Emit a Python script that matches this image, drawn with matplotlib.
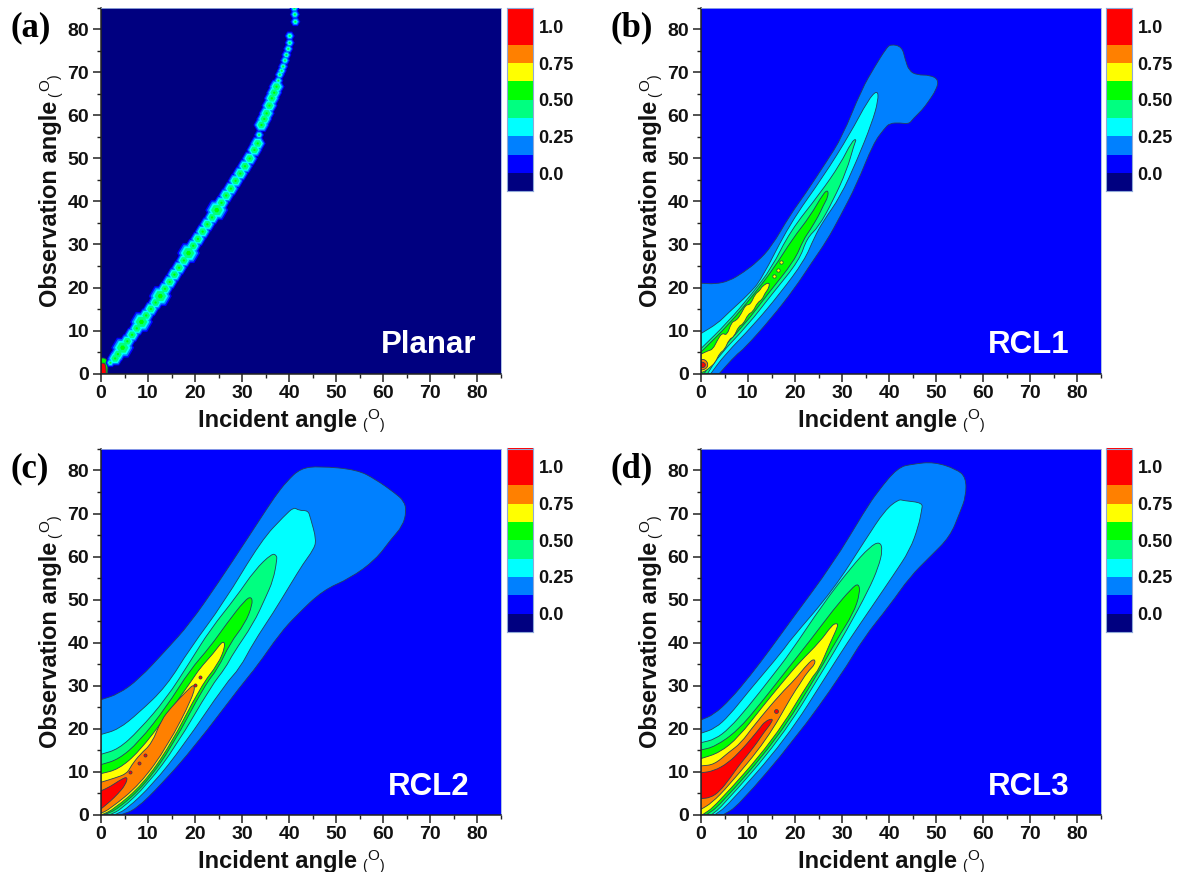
import matplotlib
matplotlib.use("Agg")
import matplotlib.pyplot as plt
from matplotlib.path import Path
from matplotlib.patches import PathPatch

plt.rcParams['font.family'] = ['Liberation Sans', 'DejaVu Sans']

# ---- colour scale ----
LEVEL_EDGES = [-0.125, 0, 0.125, 0.25, 0.375, 0.5, 0.625, 0.75, 0.875, 1.125]
LEVEL_TICKS = [0.0, 0.25, 0.50, 0.75, 1.0]
LEVEL_TICK_LABELS = ['0.0', '0.25', '0.50', '0.75', '1.0']
NAVY, BLUE, AZURE, CYAN, SPRING, GREEN, YELLOW, ORANGE, RED = (
    '#000080', '#0000FF', '#0080FF', '#00FFFF', '#00FF80', '#00FF00', '#FFFF00', '#FF8000', '#FF0000')
LEVEL_COLORS = [NAVY, BLUE, AZURE, CYAN, SPRING, GREEN, YELLOW, ORANGE, RED]

# ---- (a) Planar: ridge points; class 0 normal, 1 big bead, 2 thin ----
PLANAR_X = [2.0, 3.0, 3.6, 4.6, 5.6, 6.6, 7.6, 8.6, 9.6, 10.6, 11.6, 12.6, 13.6, 14.6, 15.6, 16.6, 17.6, 18.6,
            19.6, 20.6, 21.6, 22.6, 23.6, 24.6, 25.6, 26.6, 27.6, 28.6, 29.6, 30.6, 31.6, 32.6, 33.3,
            33.6, 34.1, 34.7, 35.2, 35.8, 36.3, 36.8, 37.3, 37.7, 38.0, 38.4, 38.7, 39.1, 39.4, 39.8, 40.1, 40.1,
            41.3, 41.2, 41.1]
PLANAR_Y = [2.5, 3.5, 4.5, 6.0, 7.5, 9.0, 10.5, 12.0, 13.5, 15.0, 16.5, 18.0, 19.7, 21.3, 23.0, 24.6, 26.3, 28.0,
            29.7, 31.3, 33.0, 34.7, 36.3, 38.0, 39.7, 41.4, 43.0, 44.8, 46.5, 48.2, 50.0, 52.0, 53.5,
            55.5, 57.8, 59.2, 60.5, 62.3, 64.0, 65.3, 66.7, 68.1, 69.5, 70.4, 71.4, 72.8, 74.1, 75.5, 76.9, 78.5,
            81.8, 83.5, 85.0]
PLANAR_CLASS = [2, 0, 0, 1, 0, 0, 0, 1, 0, 0, 0, 1, 0, 0, 0, 0, 0, 1,
                0, 0, 0, 0, 0, 1, 0, 0, 0, 0, 0, 0, 0, 0, 0,
                2, 0, 0, 0, 0, 0, 0, 0, 2, 2, 2, 2, 2, 2, 2, 2, 2,
                2, 2, 2]
PLANAR_ORIGIN_GREEN = [(0, 3.6), (1.0, 3.6), (1.5, 2.5), (1.4, 0), (0, 0)]
PLANAR_ORIGIN_RED = [(0, 2.4), (1.0, 2.4), (1.1, 0), (0, 0)]

# ---- (b) RCL1 ----
RCL1_AZURE = [(0, 21), (3, 20.8), (6, 21.5), (9, 23.5), (12, 26), (15, 29.5), (18.9, 36.8), (22, 41.5), (26.7, 49.3),
              (30, 55), (34.1, 66), (37, 71.5), (39.3, 75.5), (40.3, 76.6), (42.7, 76), (43.4, 73),
              (44.2, 70.4), (45.9, 69.4), (48.7, 69.4), (50.5, 68.3), (50, 66), (48.3, 63.2), (47, 61.3), (45.1, 59.3),
              (44.2, 58), (42.3, 58.3), (40.1, 58.2), (39, 57), (36.6, 53.5), (33.1, 44), (29.5, 36.4), (26.8, 31),
              (23.4, 25.6), (19.9, 19.8), (14.9, 12.8), (9.2, 5.8), (7.4, 4.3), (3.9, 0), (0, 0)]
RCL1_CYAN = [(0, 9.3), (3.6, 11.7), (5.7, 14), (10.2, 18.5), (12.8, 21.8), (18.9, 34.9), (26, 45.8), (31.7, 55.8),
             (35.5, 63.6), (37.5, 66), (37.7, 63.6), (36.3, 58.2), (33.1, 49.5), (29.6, 41.1), (26, 35.5), (24, 31.5),
             (22, 26.3), (16.7, 18.5), (11.2, 11.3), (5, 4.3), (2.1, 0), (0, 0)]
RCL1_SPRING = [(0, 5.8), (5.5, 11.7), (10.8, 18.5), (15, 24.5), (18.9, 33), (25.3, 41.9), (29.6, 48.7), (32, 53.9),
               (33.1, 54.7), (32.5, 53.1), (31, 47.3), (28.1, 40.3), (25, 34.1), (22.5, 31.5), (20.9, 26.3), (15.1, 18.5),
               (10, 11.3), (3.9, 4.3), (1.4, 0), (0, 0)]
RCL1_GREEN = [(0, 5), (6, 11.5), (11.3, 18.5), (15.5, 24.5), (19.5, 31.4), (23.2, 36.6), (26, 41.9), (27, 42.7), (27, 41.1),
              (26, 39.1), (25, 36.7), (23.2, 33.4), (21.7, 31), (19.9, 26.3), (14.2, 18.5), (9.2, 11.3), (3.2, 4.3),
              (0.7, 0), (0, 0)]
RCL1_YELLOW = [(0, 4.5), (1.5, 5.3), (2.5, 5.6), (3.5, 7.8), (4.5, 9.5), (5.5, 8.8), (6.5, 12), (7.5, 12.3), (8.5, 13.8),
               (9.5, 16), (10.5, 16), (11.5, 18.5), (12.5, 19.3), (13, 20.3), (14.5, 21.3), (14.5, 20), (13.5, 18.5),
               (13, 17.2), (12, 16.5), (11, 14.3), (10, 13.8), (9, 11.5), (8, 11), (7, 8.5), (6, 8), (5, 5.5), (4, 4.8), (3, 2.5),
               (2, 1.5), (1, 0.6), (0, 0.2)]
RCL1_ORANGE = [(0, 3.3), (1, 3.2), (1.6, 2), (1, 1), (0, 0.8)]
RCL1_RED = [(0, 2.7), (0.8, 2.5), (1, 1.8), (0.5, 1.3), (0, 1.5)]
RCL1_DOT_X = [15.5, 16.3, 17]
RCL1_DOT_Y = [22.6, 24, 26]

# ---- (c) RCL2 ----
RCL2_AZURE = [(0, 26.7), (3.7, 28), (8, 31.4), (13.8, 38.2), (18.9, 44.4), (25, 54), (30.9, 63.8), (34, 69),
              (37, 74), (39.5, 77.5), (42.4, 80.5), (46.4, 81), (54.4, 80.2), (58.4, 77.9), (62.4, 74.8),
              (64.4, 72.9), (64.9, 70.5), (64.1, 67.1), (61.6, 64), (58.4, 59.3), (52.9, 54.9), (47.2, 52.2),
              (41.6, 46.4), (38, 42.1), (33.1, 34.4), (30.1, 30.5), (19.9, 15.8), (12.8, 7),
              (7.4, 1.2), (4.4, 0), (0, 0)]
RCL2_CYAN = [(0, 18.6), (3.7, 19.8), (8, 23.6), (13.9, 29.8), (18.9, 38.6), (26, 49.1), (34.1, 63.8), (39, 69.5),
             (41, 71.5), (42, 70.7), (44, 70.7), (44.5, 69), (45.8, 63.8), (45.1, 61.5), (43, 58.4), (40.2, 53.4),
             (36.6, 46.9), (32.4, 40), (29.5, 34), (26.5, 30.5), (17.5, 16), (11, 7), (5.4, 1.2), (3, 0), (0, 0)]
RCL2_SPRING = [(0, 14), (3.7, 15.2), (8, 19.5), (13.9, 27), (18.9, 35.5), (23.2, 43), (28.8, 50.7), (32.7, 56.9),
               (36.3, 60.7), (37.3, 60.3), (37.4, 59.3), (36.6, 54.5), (34.9, 50.3), (32.4, 44.4), (28.1, 37.5),
               (26.4, 34), (23.5, 30), (16, 16), (9.9, 7), (4.3, 1.2), (2, 0), (0, 0)]
RCL2_GREEN = [(0, 11.6), (3.7, 12.8), (8, 16.8), (13.9, 25), (18.9, 33.6), (23.2, 39), (26.7, 44.4), (30.6, 49.9),
              (32, 50.7), (32.2, 48.8), (30.6, 44.4), (27.4, 39.8), (24.9, 34), (22, 30), (15.2, 16), (9.4, 7),
              (3.5, 1.2), (0.8, 0), (0, 0)]
RCL2_YELLOW = [(0, 9.5), (3.7, 10.5), (8, 14.5), (14, 23), (19.5, 31.5), (21, 34), (23.9, 37.5), (26, 40.6), (26.4, 39), (24.9, 35),
               (21.3, 30), (14.7, 16), (8.9, 7), (2.7, 1.2), (0.3, 0), (0, 0)]
RCL2_ORANGE = [(0, 7.5), (3, 8.5), (5.5, 9.5), (6.5, 11.5), (8.3, 14), (10.8, 16.5), (12.8, 22), (15, 25), (18, 28.5),
               (20, 30.6), (19.6, 27.5), (14.2, 16), (8.3, 7), (1.8, 1.2), (0, 0.3)]
RCL2_RED = [(0, 5.5), (2, 6.5), (4.3, 8.2), (5.7, 8.8), (5.2, 6.9), (3.6, 4.8), (1.9, 3), (0, 1.3)]
RCL2_DOT_X = [6.2, 8, 9.3, 20, 21]
RCL2_DOT_Y = [9.8, 12, 13.9, 30.2, 32]

# ---- (d) RCL3 ----
RCL3_AZURE = [(0, 22), (2.7, 23.2), (6.2, 26.7), (10.4, 32.2), (14.7, 38.4), (18.9, 44.8), (28.1, 58.4), (34.9, 70.8),
              (37.5, 75), (41.8, 80.7), (45, 81.5), (49.5, 82), (54.3, 80.3), (56.3, 78.4), (56.3, 74), (55, 70.2),
              (52.9, 64.6), (48.7, 60), (44.4, 55.3), (40.2, 48.8), (34.5, 41), (29.9, 32.6),
              (19.9, 17.4), (7.8, 1.9), (4.8, 0), (0, 0)]
RCL3_CYAN = [(0, 18.9), (3, 20), (6, 23), (10, 28.5), (17.5, 38.2), (18.9, 40.5), (28.1, 52.2), (35, 64), (39.1, 70.8),
             (42, 73.3), (43, 73), (47.1, 72.5), (46.9, 70.8), (46.2, 67), (44.4, 61.5), (40.9, 55.7), (36.3, 48.3),
             (31, 39.8), (27.4, 33.6), (18, 17.4), (5.5, 1.9), (3, 0), (0, 0)]
RCL3_SPRING = [(0, 16.7), (3, 17.5), (6, 20), (10, 25), (15, 32), (18.9, 37.5), (26, 49.1), (32, 57.6), (35.9, 62.3), (38, 63.5),
               (38.6, 61.5), (37.7, 57.5), (35.6, 52.2), (31, 42.9), (26, 33.6), (16.8, 17.4), (4.5, 1.9), (2.3, 0),
               (0, 0)]
RCL3_GREEN = [(0, 15), (3, 15.8), (7.8, 19.5), (12.8, 26), (18.5, 34), (23.5, 40.9), (28.1, 47.6), (32, 52.6), (33.5, 53.8),
              (33.8, 51.5), (32.4, 46.8), (28.8, 40.6), (25.3, 33.6), (16.1, 17.4), (3.8, 1.9), (1.2, 0), (0, 0)]
RCL3_YELLOW = [(0, 13), (4, 14.4), (8, 18), (13, 25), (17.5, 31), (21, 35.5), (25.3, 40.2), (27.8, 44), (28.8, 44.5), (29.2, 44),
               (27.4, 39.8), (25, 33.6), (23.6, 32), (15.5, 17.4), (3, 1.9), (0.4, 0), (0, 0)]
RCL3_ORANGE = [(0, 11.3), (2.8, 11.6), (5.7, 14.3), (8.5, 16.6), (11.3, 20.8), (17, 28.2), (19.9, 31.3), (22.7, 35.1),
               (24.1, 36.3), (24.3, 35), (22.5, 33), (20.8, 30), (19.5, 28), (14, 17.4), (5.8, 6.6), (2.3, 2.7), (0, 1.2)]
RCL3_RED = [(0, 9.7), (2.7, 10.1), (5.8, 12), (8.6, 15), (10.8, 17.8), (12.3, 19.8), (13.6, 21.7), (15.4, 22.4), (14.7, 20.9),
            (13.3, 19), (11.9, 16.7), (10, 14), (8, 11.3), (6.2, 8.5), (4, 5.4), (2, 3.9), (0, 3.7)]
RCL3_DOT_X = [16]
RCL3_DOT_Y = [24]

X_TICKS = list(range(0, 81, 10))
X_MINOR = list(range(5, 86, 10))

TEXT = '#111111'
LINE = '#24405c'


def px_rect(l, t, r, b):
    return [l / 1180, 1 - b / 872, (r - l) / 1180, (b - t) / 872]


def draw_cbar(l, t):
    cax = fig.add_axes(px_rect(l, t, l + 26, t + 183.5))
    for low, high, col in zip(LEVEL_EDGES[:-1], LEVEL_EDGES[1:], LEVEL_COLORS):
        cax.bar(0.5, high - low, width=1, bottom=low, color=col, linewidth=0)
    cax.set_xlim(0, 1)
    cax.set_ylim(LEVEL_EDGES[0], LEVEL_EDGES[-1])
    cax.set_xticks([])
    cax.yaxis.tick_right()
    cax.set_yticks(LEVEL_TICKS, LEVEL_TICK_LABELS, fontsize=13, fontweight='bold', color=TEXT)
    cax.tick_params(axis='y', length=0, pad=4)
    for s in cax.spines.values():
        s.set_color('#8fa8d8')
        s.set_linewidth(0.8)


def draw_axes(l, t, bg, letter, name, name_xy):
    ax = fig.add_axes(px_rect(l, t, l + 400, t + 365.5))
    ax.set_facecolor(bg)
    ax.set_xlim(0, 85)
    ax.set_ylim(0, 85)
    ax.set_xticks(X_TICKS)
    ax.set_yticks(X_TICKS)
    ax.set_xticks(X_MINOR, minor=True)
    ax.set_yticks(X_MINOR, minor=True)
    ax.tick_params(which='major', length=5.5, width=1.1, labelsize=14, pad=3, color='#222222')
    ax.tick_params(which='minor', length=3, width=1.0, color='#222222')
    for lab in ax.get_xticklabels() + ax.get_yticklabels():
        lab.set_fontweight('bold')
        lab.set_color(TEXT)
    for side in ('top', 'right'):
        ax.spines[side].set_color('#9fb4e0')
        ax.spines[side].set_linewidth(0.6)
    for side in ('left', 'bottom'):
        ax.spines[side].set_color('#222222')
        ax.spines[side].set_linewidth(1.1)
    # axis titles, with the small "(O)" unit set after them
    ax.set_xlabel('Incident angle', fontsize=17, fontweight='bold', color=TEXT)
    ax.set_ylabel('Observation angle', fontsize=17, fontweight='bold', color=TEXT)
    ax.xaxis.set_label_coords(0.4425, -0.096)
    ax.yaxis.set_label_coords(-0.097, 0.464)
    xl, yl = ax.xaxis.label, ax.yaxis.label
    small = dict(fontweight='normal', color=TEXT, annotation_clip=False)
    ax.annotate('(', xy=(1, 0), xycoords=xl, xytext=(3, 0), textcoords='offset points', fontsize=10,
                ha='left', va='bottom', **small)
    ax.annotate('O', xy=(1, 0), xycoords=xl, xytext=(7, 7), textcoords='offset points', fontsize=11,
                ha='left', va='bottom', **small)
    ax.annotate(')', xy=(1, 0), xycoords=xl, xytext=(16, 0), textcoords='offset points', fontsize=10,
                ha='left', va='bottom', **small)
    ax.annotate('(', xy=(1, 1), xycoords=yl, xytext=(0, 3), textcoords='offset points', fontsize=10,
                ha='right', va='bottom', rotation=90, **small)
    ax.annotate('O', xy=(1, 1), xycoords=yl, xytext=(-7, 7), textcoords='offset points', fontsize=11,
                ha='right', va='bottom', rotation=90, **small)
    ax.annotate(')', xy=(1, 1), xycoords=yl, xytext=(0, 16), textcoords='offset points', fontsize=10,
                ha='right', va='bottom', rotation=90, **small)
    fig.text((l - 91) / 1180, 1 - (t + 20) / 872, letter, fontsize=25, fontweight='bold',
             family='Liberation Serif', color='black', va='center', ha='left')
    fig.text(name_xy[0] / 1180, 1 - name_xy[1] / 872, name, fontsize=22.5, fontweight='bold',
             color='white', va='center', ha='center')
    return ax


def contour_path(pts):
    # quadratic curve through the read outline; points on the axes stay sharp corners
    n = len(pts)
    mid = lambda a, b: ((a[0] + b[0]) / 2, (a[1] + b[1]) / 2)
    start = mid(pts[-1], pts[0])
    verts, codes = [start], [Path.MOVETO]
    for i, p in enumerate(pts):
        m = mid(p, pts[(i + 1) % n])
        if p[0] == 0 or p[1] == 0:
            verts += [p, m]
            codes += [Path.LINETO, Path.LINETO]
        else:
            verts += [p, m]
            codes += [Path.CURVE3, Path.CURVE3]
    verts.append(start)
    codes.append(Path.CLOSEPOLY)
    return Path(verts, codes)


def fill_levels(ax, polys):
    for z, (pts, col) in enumerate(polys):
        ax.add_patch(PathPatch(contour_path(pts), facecolor=col, edgecolor=LINE, linewidth=0.6,
                               zorder=2 + z * 0.01))


fig = plt.figure(figsize=(11.8, 8.72), dpi=100, facecolor='white')

# (a)
ax = draw_axes(101, 8, NAVY, '(a)', 'Planar', (429, 345))
draw_cbar(507, 8)
BEAD_STYLE = [((16, 23, 10), BLUE), ((13.5, 19.5, 7.5), AZURE), ((10.5, 15.5, 5), CYAN), ((7.5, 11.5, 3), SPRING),
              ((2.5, 5, 1.2), GREEN)]
for widths, col in BEAD_STYLE:
    sizes = [(widths[c] * 0.72) ** 2 for c in PLANAR_CLASS]
    ax.scatter(PLANAR_X, PLANAR_Y, s=sizes, marker='H', c=col, linewidths=0, zorder=3)
fill_levels(ax, [(PLANAR_ORIGIN_GREEN, GREEN), (PLANAR_ORIGIN_RED, RED)])

# (b)
ax = draw_axes(701, 8, BLUE, '(b)', 'RCL1', (1029, 345))
draw_cbar(1106, 8)
fill_levels(ax, [(RCL1_AZURE, AZURE), (RCL1_CYAN, CYAN), (RCL1_SPRING, SPRING), (RCL1_GREEN, GREEN),
                 (RCL1_YELLOW, YELLOW), (RCL1_ORANGE, ORANGE), (RCL1_RED, RED)])
ax.scatter(RCL1_DOT_X, RCL1_DOT_Y, s=6, c=YELLOW, edgecolors=LINE, linewidths=0.5, zorder=4)

# (c)
ax = draw_axes(101, 449, BLUE, '(c)', 'RCL2', (429, 787))
draw_cbar(507, 448.5)
fill_levels(ax, [(RCL2_AZURE, AZURE), (RCL2_CYAN, CYAN), (RCL2_SPRING, SPRING), (RCL2_GREEN, GREEN),
                 (RCL2_YELLOW, YELLOW), (RCL2_ORANGE, ORANGE), (RCL2_RED, RED)])
ax.scatter(RCL2_DOT_X, RCL2_DOT_Y, s=5, c=RED, edgecolors=LINE, linewidths=0.5, zorder=4)

# (d)
ax = draw_axes(701, 449, BLUE, '(d)', 'RCL3', (1029, 787))
draw_cbar(1106, 448.5)
fill_levels(ax, [(RCL3_AZURE, AZURE), (RCL3_CYAN, CYAN), (RCL3_SPRING, SPRING), (RCL3_GREEN, GREEN),
                 (RCL3_YELLOW, YELLOW), (RCL3_ORANGE, ORANGE), (RCL3_RED, RED)])
ax.scatter(RCL3_DOT_X, RCL3_DOT_Y, s=8, c=RED, edgecolors=LINE, linewidths=0.5, zorder=4)

fig.savefig('out.png', dpi=100)
